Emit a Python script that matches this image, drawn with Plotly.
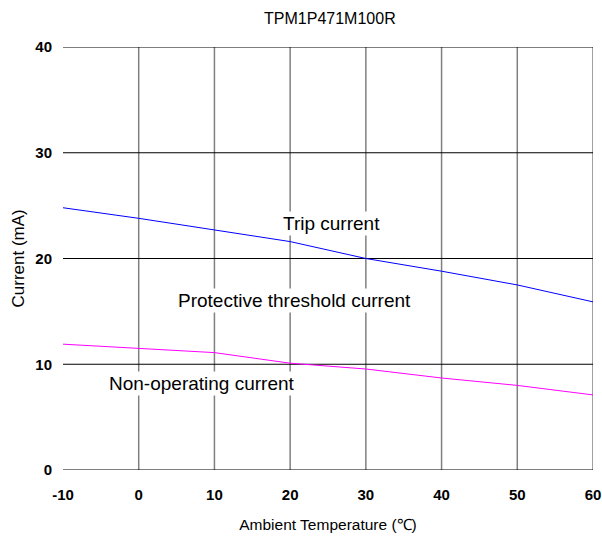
import plotly.graph_objects as go

temps = [-10, 0, 10, 20, 30, 40, 50, 60]
trip_current = [24.8, 23.8, 22.7, 21.6, 20.0, 18.8, 17.5, 15.9]
nonop_current = [11.9, 11.5, 11.1, 10.1, 9.55, 8.7, 8.0, 7.1]

x_ticks = [-10, 0, 10, 20, 30, 40, 50, 60]
x_tick_labels = ["-10", "0", "10", "20", "30", "40", "50", "60"]
y_ticks = [0, 10, 20, 30, 40]

FONT = "Arial, Liberation Sans"

fig = go.Figure()
fig.add_trace(go.Scatter(x=temps, y=trip_current, mode="lines",
                         line=dict(color="#0000ff", width=1), showlegend=False))
fig.add_trace(go.Scatter(x=temps, y=nonop_current, mode="lines",
                         line=dict(color="#ff00ff", width=1), showlegend=False))

# vertical gray grid lines
for xv in x_ticks[1:]:
    fig.add_shape(type="line", x0=xv, x1=xv, y0=0, y1=40, xref="x", yref="y",
                  line=dict(color="#808080", width=1.5), layer="below")
# horizontal black grid lines
for yv in y_ticks:
    fig.add_shape(type="line", x0=-10, x1=60, y0=yv, y1=yv, xref="x", yref="y",
                  line=dict(color="#000000", width=1.2), layer="below")

ann_font = dict(family=FONT, size=19, color="#000000")
labels = [("Trip current", 25.5, 23.3),
          ("Protective threshold current", 20.6, 16.0),
          ("Non-operating current", 8.4, 8.2)]
for t, xv, yv in labels:
    fig.add_annotation(x=xv, y=yv, text=t, showarrow=False, font=ann_font,
                       bgcolor="#ffffff", borderpad=1)

# y axis title
fig.add_annotation(x=-10, y=20, xref="x", yref="y", xshift=-45, text="Current (mA)",
                   textangle=-90, showarrow=False,
                   font=dict(family=FONT, size=17, color="#000000"))

fig.update_layout(
    width=602, height=536,
    margin=dict(l=63, r=9, t=47, b=66, autoexpand=False),
    paper_bgcolor="#ffffff", plot_bgcolor="#ffffff",
    hovermode=False,
    title=dict(text="TPM1P471M100R", x=0.548, xanchor="center", y=0.966, yanchor="middle",
               font=dict(family=FONT, size=16, color="#000000")),
    xaxis=dict(range=[-10, 60], tickvals=x_ticks, ticktext=x_tick_labels,
               showgrid=False, zeroline=False, automargin=False,
               showline=False, ticks="", ticklabelstandoff=14,
               tickfont=dict(family=FONT, size=15, color="#000000", weight="bold"),
               title=dict(text="Ambient Temperature (℃)", standoff=17,
                          font=dict(family=FONT, size=15.5, color="#000000"))),
    yaxis=dict(range=[0, 40], tickvals=y_ticks, showgrid=False, zeroline=False,
               showline=False, ticks="", ticklabelstandoff=10, automargin=False,
               tickfont=dict(family=FONT, size=15, color="#000000", weight="bold")),
)

fig.write_html("out.html", config={"displayModeBar": False},
               post_script="document.body.style.margin='0';document.documentElement.style.overflow='hidden';")
